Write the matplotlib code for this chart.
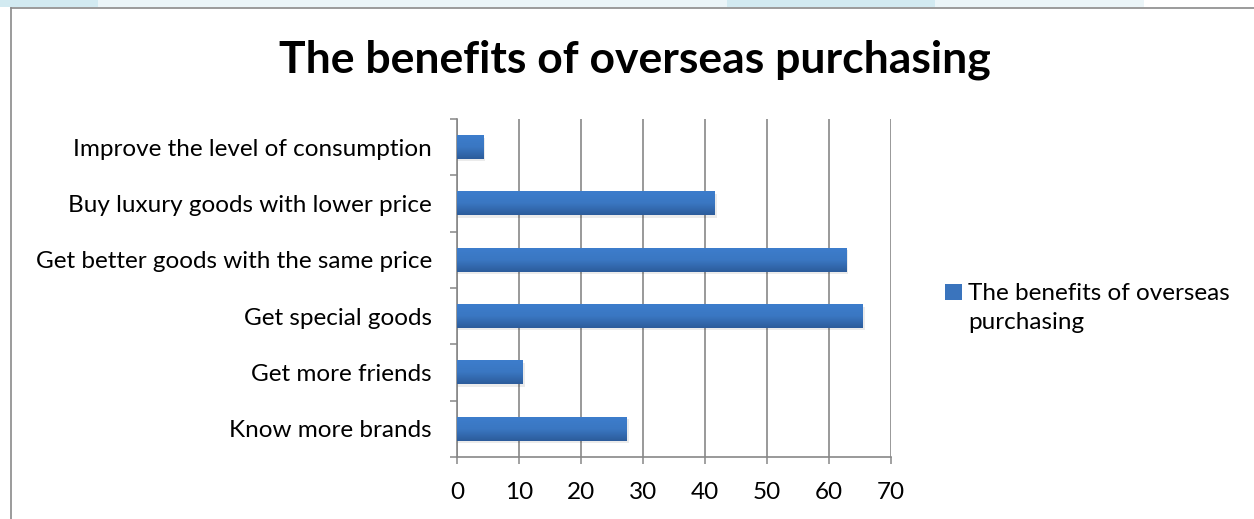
import numpy as np
import matplotlib
matplotlib.use("Agg")
import matplotlib.pyplot as plt
from matplotlib.colors import LinearSegmentedColormap
from matplotlib.patches import Rectangle
from matplotlib.lines import Line2D

# benefits, listed bottom to top
categories = [
    "Know more brands",
    "Get more friends",
    "Get special goods",
    "Get better goods with the same price",
    "Buy luxury goods with lower price",
    "Improve the level of consumption",
]
values = [27.4, 10.6, 65.5, 62.8, 41.6, 4.2]
xticks = [0, 10, 20, 30, 40, 50, 60, 70]
series_name = "The benefits of overseas\npurchasing"

plt.rcParams['font.family'] = ['Lato', 'DejaVu Sans']
grid_grey = '#878787'
bar_cmap = LinearSegmentedColormap.from_list('bar', ['#3d7dcc', '#3a77c2', '#2c5c9b'])
fs = 17.5

fig = plt.figure(figsize=(12.54, 5.19), dpi=100)
ax = fig.add_axes([0.3644, 0.1195, 0.3459, 0.6512])

# top ribbon and frame
for x0, w, c in [(0, 98, '#d2eaf1'), (98, 629, '#ebf5f8'), (727, 208, '#d2eaf1'), (935, 209, '#ebf5f8')]:
    fig.patches.append(Rectangle((x0 / 1254, 1 - 7 / 519), w / 1254, 7 / 519,
                                 transform=fig.transFigure, color=c, lw=0))
fig.lines.append(Line2D([10.5 / 1254, 1], [1 - 8 / 519] * 2, transform=fig.transFigure, color='#8a8a8a', lw=1.2))
fig.lines.append(Line2D([10.5 / 1254] * 2, [0, 1 - 8 / 519], transform=fig.transFigure, color='#8a8a8a', lw=1.2))

h = 0.42
grad = np.linspace(0, 1, 50).reshape(-1, 1)
for i, v in enumerate(values):
    # soft drop shadow then gradient fill
    ax.add_patch(Rectangle((0, i - h / 2 - 0.04), v + 0.35, h, color='#000000', alpha=0.08, lw=0, zorder=2))
    ax.imshow(grad, extent=[0, v, i - h / 2, i + h / 2], aspect='auto', cmap=bar_cmap,
              origin='upper', zorder=3, interpolation='bilinear')

ax.set_xlim(0, 70)
ax.set_ylim(-0.5, len(categories) - 0.5)
ax.set_xticks(xticks)
ax.set_xticklabels([str(t) for t in xticks], fontsize=fs)
ax.set_yticks(np.arange(-0.5, len(categories), 1))
ax.set_yticklabels([])
ax.set_yticks(range(len(categories)), minor=True)
ax.set_yticklabels(categories, minor=True, fontsize=fs)
ax.tick_params(axis='y', which='major', length=5, width=1.1, color=grid_grey, direction='out')
ax.tick_params(axis='y', which='minor', length=0, pad=18)
ax.tick_params(axis='x', length=5, width=1.1, color=grid_grey, direction='out', pad=13)

ax.grid(axis='x', color=grid_grey, lw=1.2, zorder=1)
ax.set_axisbelow(True)
for s in ['top', 'right']:
    ax.spines[s].set_visible(False)
for s in ['left', 'bottom']:
    ax.spines[s].set_color(grid_grey)
    ax.spines[s].set_linewidth(1.2)

fig.text(0.506, 0.885, "The benefits of overseas purchasing", ha='center', va='center',
         fontsize=32, fontweight='bold')

# legend: square key beside the first line of a two-line label
fig.patches.append(Rectangle((945 / 1254, 1 - 300 / 519), 17 / 1254, 16 / 519,
                             transform=fig.transFigure, facecolor='#3a74bd', edgecolor='none'))
fig.text(968 / 1254, 1 - 283 / 519, series_name, ha='left', va='top', fontsize=fs, linespacing=1.45)

fig.savefig("out.png", dpi=100)
